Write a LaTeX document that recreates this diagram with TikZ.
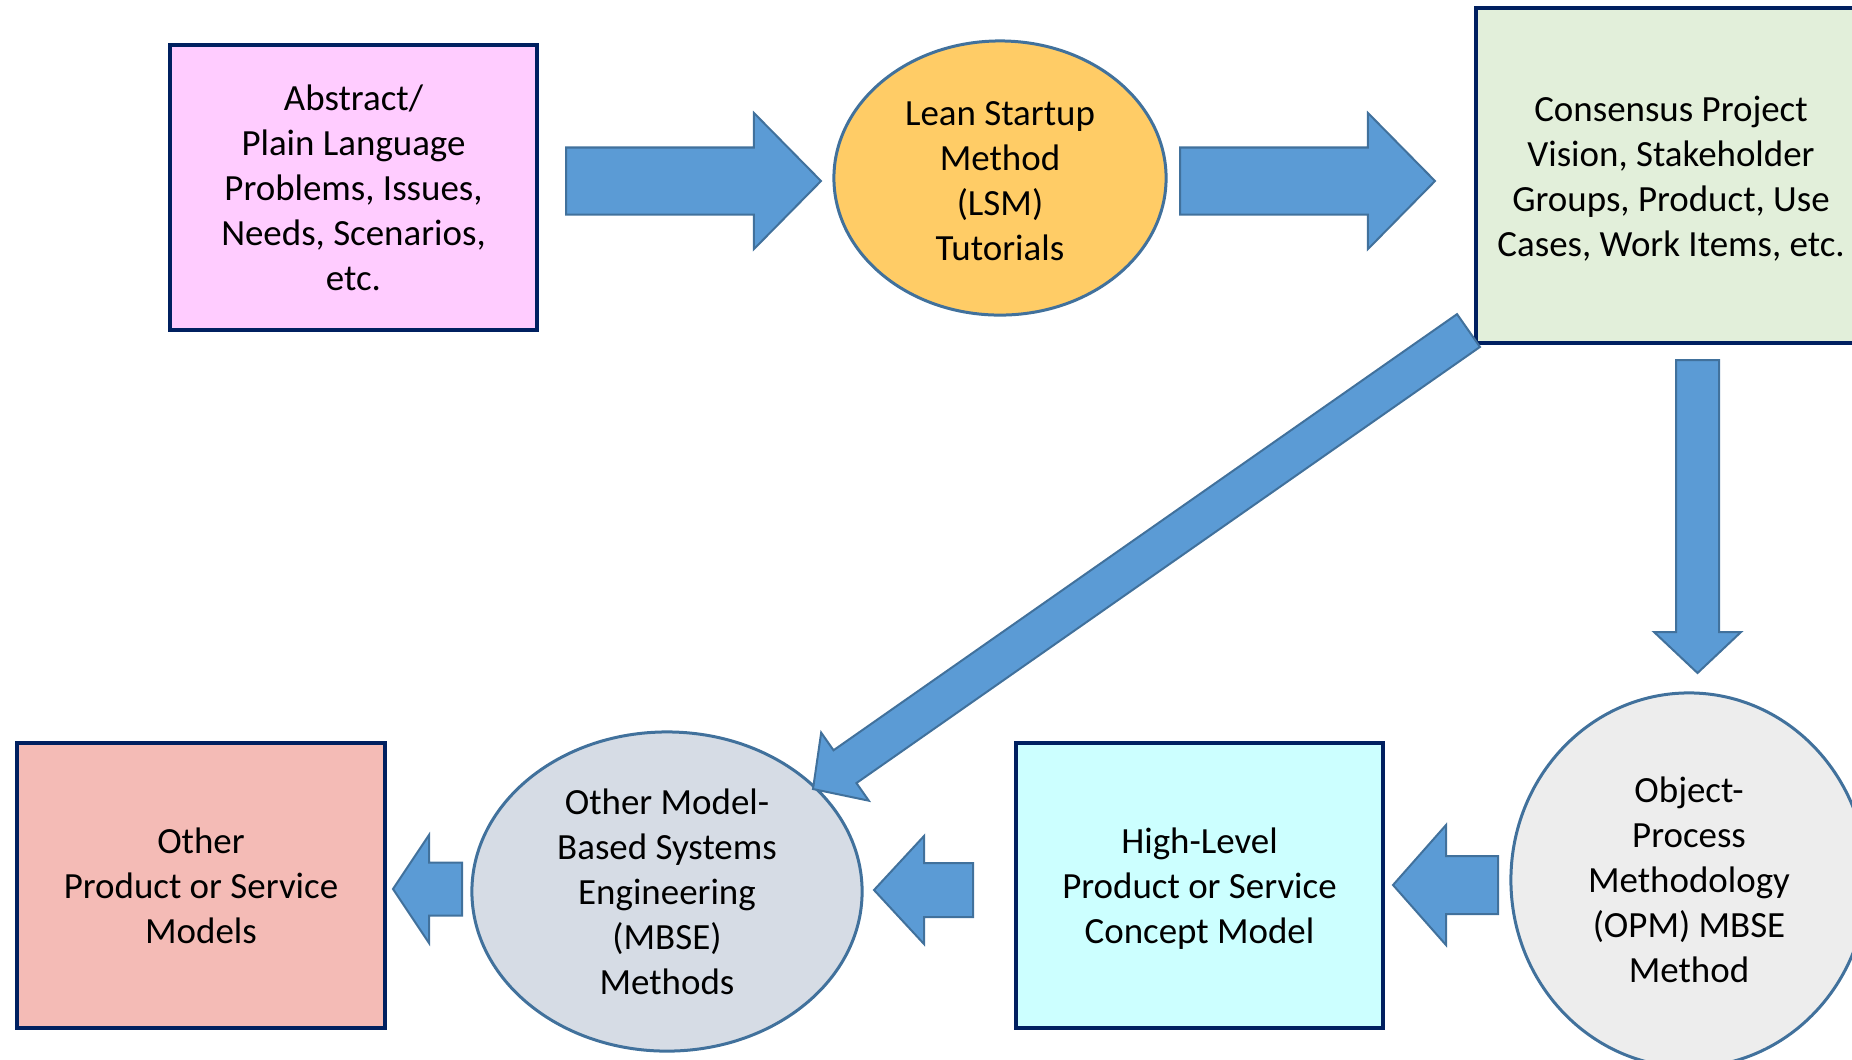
\documentclass[tikz,border=0pt]{standalone}
\usepackage{fontspec}
\setmainfont{Carlito}
\usetikzlibrary{calc,shapes.geometric}

\definecolor{navy}{HTML}{002060}
\definecolor{ringblue}{HTML}{41719C}
\definecolor{arrowfill}{HTML}{5B9BD5}
\definecolor{pinkfill}{HTML}{FFCCFF}
\definecolor{lsmfill}{HTML}{FFCC66}
\definecolor{greenfill}{HTML}{E2EFDA}
\definecolor{greyfill}{HTML}{EDEDED}
\definecolor{cyanfill}{HTML}{CCFFFF}
\definecolor{mbsefill}{HTML}{D6DCE5}
\definecolor{salmonfill}{HTML}{F4BBB6}

% block arrow: tail, tip, half shaft width, half head width, head length
\newcommand\blockarrow[5]{%
  \coordinate (ba-h) at ($(#2)!#5!(#1)$);
  \draw[fatarrow] ($(#1)!#3!90:(#2)$) -- ($(ba-h)!#3!-90:(#1)$)
    -- ($(ba-h)!#4!-90:(#1)$) -- (#2) -- ($(ba-h)!#4!90:(#1)$)
    -- ($(ba-h)!#3!90:(#1)$) -- ($(#1)!#3!-90:(#2)$) -- cycle;
}

\begin{document}
\begin{tikzpicture}[x=0.01cm, y=-0.01cm,
  txt/.style={align=center, inner sep=0pt, font=\fontsize{10.5}{12.8}\selectfont},
  card/.style={txt, rectangle, draw=navy, line width=0.04cm},
  disc/.style={txt, ellipse, draw=ringblue, line width=0.03cm},
  lowtext/.style={label={[txt, yshift=-0.03cm]center:{#1}}},
  fatarrow/.style={fill=arrowfill, draw=ringblue, line width=0.02cm, line join=miter}]
\useasboundingbox (0,0) rectangle (1852,1059);
\clip (0,0) rectangle (1852,1059);

% boxes and ellipses
\node[card, fill=pinkfill, minimum width=3.67cm, minimum height=2.85cm] (abs) at (353.5,187.5)
  {Abstract/\\Plain Language\\Problems, Issues,\\Needs, Scenarios,\\etc.};
\node[disc, fill=lsmfill, minimum width=3.32cm, minimum height=2.74cm,
  lowtext={Lean Startup\\Method\\(LSM)\\Tutorials}] (lsm) at (1000,178) {};
\node[card, fill=greenfill, minimum width=3.90cm, minimum height=3.35cm,
  lowtext={Consensus Project\\Vision, Stakeholder\\Groups, Product, Use\\Cases, Work Items, etc.}]
  (vis) at (1671,175.5) {};
\node[disc, fill=greyfill, minimum width=3.56cm, minimum height=3.74cm] (opm) at (1689,880)
  {Object-\\Process\\Methodology\\(OPM) MBSE\\Method};
\node[card, fill=cyanfill, minimum width=3.67cm, minimum height=2.85cm,
  lowtext={High-Level\\Product or Service\\Concept Model}] (hlc) at (1199.5,885.5) {};
\node[disc, fill=mbsefill, minimum width=3.90cm, minimum height=3.19cm] (mbse) at (667,891.5)
  {Other Model-\\Based Systems\\Engineering\\(MBSE)\\Methods};
\node[card, fill=salmonfill, minimum width=3.68cm, minimum height=2.85cm] (oth) at (201,885.5)
  {Other\\Product or Service\\Models};

% arrow ends
\coordinate (a1s) at (566,181);  \coordinate (a1e) at (821,181);
\coordinate (a2s) at (1180,181); \coordinate (a2e) at (1435,181);
\coordinate (a3s) at (1697.5,360); \coordinate (a3e) at (1697.5,673);
\coordinate (a4s) at (1468.5,330.5); \coordinate (a4e) at (813,789);
\coordinate (a5s) at (1498,885); \coordinate (a5e) at (1393,885);
\coordinate (a6s) at (973,890);  \coordinate (a6e) at (874,890);
\coordinate (a7s) at (462,889);  \coordinate (a7e) at (393,889);

% flow arrows
\blockarrow{a1s}{a1e}{0.335cm}{0.68cm}{0.67cm}
\blockarrow{a2s}{a2e}{0.335cm}{0.68cm}{0.67cm}
\blockarrow{a3s}{a3e}{0.215cm}{0.435cm}{0.41cm}
\blockarrow{a4s}{a4e}{0.20cm}{0.415cm}{0.39cm}
\blockarrow{a5s}{a5e}{0.29cm}{0.60cm}{0.53cm}
\blockarrow{a6s}{a6e}{0.27cm}{0.54cm}{0.50cm}
\blockarrow{a7s}{a7e}{0.265cm}{0.54cm}{0.36cm}
\end{tikzpicture}
\end{document}
